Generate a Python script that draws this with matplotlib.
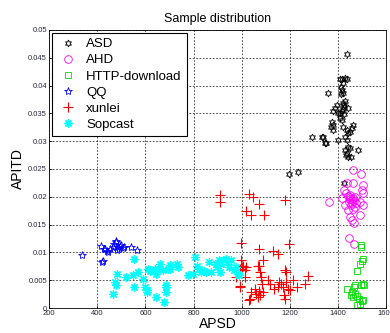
import numpy as np
import matplotlib
matplotlib.use('Agg')
from matplotlib import pyplot as plt

plt.rcParams['font.family'] = ['Liberation Sans', 'DejaVu Sans']

# ASD (black hexagrams)
asd_x = [1437, 1407, 1417, 1431, 1437, 1422, 1360, 1415, 1422, 1411, 1420, 1425, 1422, 1418, 1426,
         1395, 1388, 1381, 1401, 1408, 1408, 1415, 1375, 1381, 1371, 1378, 1419, 1436, 1457, 1464,
         1450, 1443, 1337, 1349, 1401, 1428, 1436, 1443, 1450, 1428, 1484, 1433, 1443, 1453, 1436,
         1195, 1233, 1292, 1333, 1346, 1424, 1430, 1425, 1440, 1412]
asd_y = [0.0457, 0.0412, 0.0412, 0.0414, 0.0411, 0.0405, 0.0387, 0.0392, 0.0386, 0.0385, 0.0369, 0.0362, 0.0358, 0.0355, 0.0365,
         0.0365, 0.0359, 0.0355, 0.0351, 0.0350, 0.0341, 0.0338, 0.0335, 0.0329, 0.0325, 0.0321, 0.0325, 0.0321, 0.0323, 0.0329,
         0.0317, 0.0314, 0.0308, 0.0296, 0.0303, 0.0308, 0.0302, 0.0290, 0.0287, 0.0284, 0.0285, 0.0275, 0.0272, 0.0271, 0.0279,
         0.0241, 0.0245, 0.0307, 0.0308, 0.0296, 0.0225, 0.0372, 0.0348, 0.0360, 0.0398]

# AHD (magenta circles)
ahd_x = [1464, 1494, 1464, 1436, 1505, 1499, 1505, 1425, 1433, 1361, 1457, 1450, 1462, 1445, 1468,
         1455, 1472, 1448, 1460, 1452, 1415, 1428, 1476, 1490, 1505, 1443, 1464, 1450, 1457, 1466,
         1490, 1447, 1466, 1440, 1470]
ahd_y = [0.0248, 0.0241, 0.0224, 0.0224, 0.0221, 0.0212, 0.0207, 0.0212, 0.0206, 0.0191, 0.0194, 0.0200, 0.0198, 0.0190, 0.0192,
         0.0186, 0.0200, 0.0203, 0.0188, 0.0196, 0.0197, 0.0185, 0.0188, 0.0191, 0.0185, 0.0176, 0.0178, 0.0164, 0.0158, 0.0152,
         0.0167, 0.0126, 0.0115, 0.0201, 0.0182]

# HTTP-download (green squares)
http_x = [1496, 1496, 1504, 1501, 1490, 1481, 1471, 1466, 1494, 1504, 1510, 1436, 1453, 1464, 1478,
          1488, 1499, 1492, 1505, 1481, 1457, 1470]
http_y = [0.0113, 0.0109, 0.0089, 0.0085, 0.0079, 0.0067, 0.0041, 0.0037, 0.0041, 0.0044, 0.0041, 0.0034, 0.0023, 0.0020, 0.0022,
          0.0017, 0.0013, 0.0008, 0.0014, 0.0005, 0.0029, 0.0026]

# QQ (blue pentagrams)
qq_x = [335, 414, 439, 432, 446, 428, 452, 418, 425, 487, 470, 478, 495, 505, 482, 466, 500, 490, 510, 476, 542, 566]
qq_y = [0.0095, 0.0112, 0.0103, 0.0107, 0.0100, 0.0106, 0.0106, 0.0083, 0.0085, 0.0110, 0.0115, 0.0118, 0.0112, 0.0108, 0.0104,
        0.0110, 0.0114, 0.0106, 0.0110, 0.0120, 0.0109, 0.0104]

# xunlei (red plus)
xl_x = [908, 908, 1029, 1049, 1071, 1181, 1018, 1039, 1094, 998, 1195, 1071, 1132, 1150, 1088,
        1071, 998, 1002, 1016, 991, 977, 1012, 1081, 1108, 1118, 1085, 1057, 1071, 1090, 1076,
        1035, 994, 1136, 1150, 1157, 1163, 1170, 1181, 1184, 1184, 1191, 1177, 1181, 1212, 1228,
        1274, 1264, 1201, 1005, 1012, 991, 1066, 1075, 1079, 1039, 1060, 1066, 1032]
xl_y = [0.0203, 0.0191, 0.0205, 0.0199, 0.0187, 0.0194, 0.0175, 0.0167, 0.0167, 0.0117, 0.0116, 0.0106, 0.0103, 0.0097, 0.0086,
        0.0076, 0.0086, 0.0073, 0.0073, 0.0070, 0.0055, 0.0056, 0.0056, 0.0050, 0.0043, 0.0043, 0.0035, 0.0031, 0.0029, 0.0023,
        0.0016, 0.0038, 0.0035, 0.0037, 0.0047, 0.0043, 0.0038, 0.0068, 0.0064, 0.0047, 0.0035, 0.0023, 0.0017, 0.0050, 0.0037,
        0.0057, 0.0043, 0.0032, 0.0076, 0.0068, 0.0040, 0.0076, 0.0065, 0.0056, 0.0029, 0.0026, 0.0020, 0.0014]

# Sopcast (cyan asterisks)
sop_x = [484, 473, 477, 466, 519, 549, 552, 570, 591, 552, 600, 607, 605, 611, 653,
         625, 646, 673, 701, 694, 687, 684, 684, 735, 643, 676, 621, 639, 662, 704,
         731, 777, 798, 805, 814, 822, 832, 842, 853, 864, 874, 892, 897, 906, 915,
         922, 933, 938, 949, 956, 908, 970, 984, 977, 990]
sop_y = [0.0062, 0.0046, 0.0041, 0.0026, 0.0055, 0.0059, 0.0089, 0.0065, 0.0052, 0.0037, 0.0037, 0.0032, 0.0029, 0.0071, 0.0071,
         0.0068, 0.0062, 0.0068, 0.0077, 0.0071, 0.0041, 0.0028, 0.0037, 0.0074, 0.0019, 0.0010, 0.0067, 0.0070, 0.0079, 0.0070,
         0.0079, 0.0059, 0.0062, 0.0091, 0.0076, 0.0070, 0.0065, 0.0067, 0.0065, 0.0083, 0.0065, 0.0079, 0.0073, 0.0086, 0.0079,
         0.0086, 0.0089, 0.0083, 0.0074, 0.0086, 0.0065, 0.0068, 0.0062, 0.0074, 0.0060]

fig = plt.figure(figsize=(3.9, 3.33), dpi=100)
ax = fig.add_axes([0.126, 0.075, 0.864, 0.835])

ax.plot(asd_x, asd_y, linestyle='none', marker=(6, 1, 0), markersize=5, markerfacecolor='none',
        markeredgecolor='black', markeredgewidth=0.6, label='ASD')
ax.plot(ahd_x, ahd_y, linestyle='none', marker='o', markersize=5.5, markerfacecolor='none',
        markeredgecolor='#ff00ff', markeredgewidth=0.6, label='AHD')
ax.plot(http_x, http_y, linestyle='none', marker='s', markersize=5, markerfacecolor='none',
        markeredgecolor='#00dd00', markeredgewidth=0.6, label='HTTP-download')
ax.plot(qq_x, qq_y, linestyle='none', marker='*', markersize=6, markerfacecolor='none',
        markeredgecolor='#0000ff', markeredgewidth=0.6, label='QQ')
ax.plot(xl_x, xl_y, linestyle='none', marker='+', markersize=7, color='red',
        markeredgewidth=0.8, label='xunlei')
ax.plot(sop_x, sop_y, linestyle='none', marker=(8, 2, 0), markersize=6, color='cyan',
        markeredgewidth=0.9, label='Sopcast')

ax.set_xlim(200, 1600)
ax.set_ylim(0, 0.05)
ax.set_xticks(np.arange(200, 1601, 200))
ax.set_yticks(np.arange(0, 0.0501, 0.005))
ax.set_yticklabels(['0', '0.005', '0.01', '0.015', '0.02', '0.025', '0.03', '0.035', '0.04', '0.045', '0.05'])
ax.tick_params(labelsize=5.5, labelcolor='#2a2a40', direction='in', length=2, width=0.5, pad=1.5)
ax.grid(True, linestyle=(0, (2, 2)), color='#333333', linewidth=0.6)
for s in ax.spines.values():
    s.set_linewidth(0.6)

ax.set_title('Sample distribution', fontsize=9, pad=6)
ax.set_xlabel('APSD', fontsize=10, labelpad=0)
ax.set_ylabel('APITD', fontsize=10, labelpad=2)

leg = ax.legend(loc='upper left', fontsize=9.5, borderaxespad=0.2, labelspacing=0.3,
                handletextpad=0.6, handlelength=1.6, fancybox=False, framealpha=1)
leg.get_frame().set_edgecolor('black')
leg.get_frame().set_linewidth(0.8)

fig.savefig('out.png', dpi=100)
